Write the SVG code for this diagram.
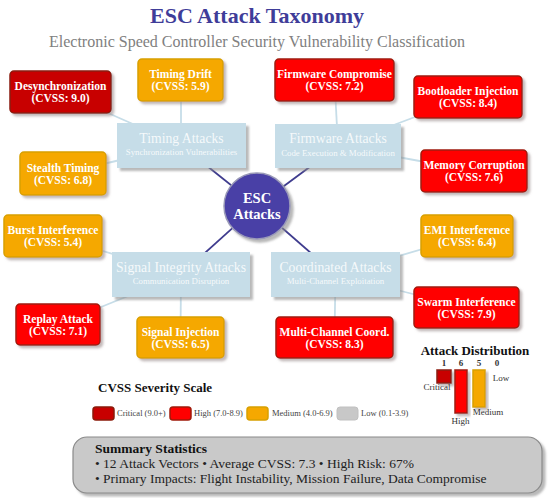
<svg xmlns="http://www.w3.org/2000/svg" width="550" height="498" viewBox="0 0 550 498">
<defs>
<filter id="sh" x="-20%" y="-20%" width="150%" height="160%"><feDropShadow dx="2.5" dy="2.5" stdDeviation="1" flood-color="#9a8a8a" flood-opacity="0.6"/></filter>
<filter id="shc" x="-20%" y="-20%" width="150%" height="160%"><feDropShadow dx="3" dy="3" stdDeviation="0.8" flood-color="#8a8a8a" flood-opacity="0.6"/></filter>
<style>
text{font-family:"Liberation Serif","Times New Roman",serif}
.leaf rect{stroke-width:1.5;filter:url(#sh)}
.crit{fill:#c80000;stroke:#8b1a0a}
.high{fill:#ff0000;stroke:#a01a0a}
.med{fill:#f5a800;stroke:#d8a000}
.low{fill:#c8c8c8;stroke:#c0c0c0}
.lt{fill:#ffffff;font-size:11.5px;font-weight:bold;text-anchor:middle}
.cat rect{fill:#c6dde8;filter:url(#shc)}
.ct{fill:#ffffff;fill-opacity:0.85;font-size:13.7px;text-anchor:middle}
.cs{fill:#ffffff;fill-opacity:0.85;font-size:8.8px;text-anchor:middle}
.hub{stroke:#3f3c8e;stroke-width:1.8}
.br{stroke:#c6dde8;stroke-width:1.8}
.lg{fill:#444;font-size:8.5px}
.dl{fill:#333;font-size:9px;text-anchor:middle}
.sm{fill:#222;font-size:13.5px}
</style>
</defs>
<rect width="550" height="498" fill="#ffffff"/>
<g id="title">
<text x="257" y="23" font-size="22" font-weight="bold" fill="#3f3d99" text-anchor="middle">ESC Attack Taxonomy</text>
<text x="257" y="47" font-size="16" fill="#808080" text-anchor="middle">Electronic Speed Controller Security Vulnerability Classification</text>
</g>
<g id="connectors">
<line class="hub" x1="257" y1="206" x2="181.5" y2="145.5"/>
<line class="hub" x1="257" y1="206" x2="338" y2="146"/>
<line class="hub" x1="257" y1="206" x2="181" y2="274.5"/>
<line class="hub" x1="257" y1="206" x2="335.5" y2="274.5"/>
<line class="br" x1="181.5" y1="145.5" x2="60.5" y2="92"/>
<line class="br" x1="181" y1="145.5" x2="181" y2="80"/>
<line class="br" x1="181.5" y1="145.5" x2="63" y2="173.5"/>
<line class="br" x1="338" y1="146" x2="334.5" y2="80"/>
<line class="br" x1="338" y1="146" x2="468" y2="97"/>
<line class="br" x1="338" y1="146" x2="474" y2="171"/>
<line class="br" x1="181" y1="274.5" x2="53" y2="236"/>
<line class="br" x1="181" y1="274.5" x2="58" y2="324.5"/>
<line class="br" x1="181" y1="274.5" x2="180.5" y2="337.5"/>
<line class="br" x1="335.5" y1="274.5" x2="467" y2="236"/>
<line class="br" x1="335.5" y1="274.5" x2="466.5" y2="307.5"/>
<line class="br" x1="335.5" y1="274.5" x2="334.5" y2="337.5"/>
</g>
<g id="cat-timing" class="cat"><rect x="117" y="123" width="129" height="45"/><text class="ct" x="181.5" y="142.5">Timing Attacks</text><text class="cs" x="181.5" y="155">Synchronization Vulnerabilities</text></g>
<g id="cat-firmware" class="cat"><rect x="275" y="124" width="126" height="44"/><text class="ct" x="338" y="143">Firmware Attacks</text><text class="cs" x="338" y="155.5">Code Execution &amp; Modification</text></g>
<g id="cat-signal" class="cat"><rect x="112" y="252" width="138" height="45"/><text class="ct" x="181" y="271.5">Signal Integrity Attacks</text><text class="cs" x="181" y="284">Communication Disruption</text></g>
<g id="cat-coord" class="cat"><rect x="271" y="252" width="129" height="45"/><text class="ct" x="335.5" y="271.5">Coordinated Attacks</text><text class="cs" x="335.5" y="284">Multi-Channel Exploitation</text></g>
<g id="hub">
<circle cx="257" cy="206" r="33" fill="#4a3fa6" stroke="#9a9ab8" stroke-width="1.5" filter="url(#shc)"/>
<text x="257" y="203" font-size="14.5" font-weight="bold" fill="#ffffff" text-anchor="middle">ESC</text>
<text x="257" y="219" font-size="14.5" font-weight="bold" fill="#ffffff" text-anchor="middle">Attacks</text>
</g>
<g id="desync" class="leaf"><rect class="crit" x="10" y="71" width="101" height="42" rx="4"/><text class="lt" x="60.5" y="90">Desynchronization</text><text class="lt" x="60.5" y="102">(CVSS: 9.0)</text></g>
<g id="timing-drift" class="leaf"><rect class="med" x="138" y="59" width="85" height="42" rx="4"/><text class="lt" x="180.5" y="78">Timing Drift</text><text class="lt" x="180.5" y="90">(CVSS: 5.9)</text></g>
<g id="stealth-timing" class="leaf"><rect class="med" x="20" y="152" width="86" height="43" rx="4"/><text class="lt" x="63" y="171.5">Stealth Timing</text><text class="lt" x="63" y="183.5">(CVSS: 6.8)</text></g>
<g id="firmware-compromise" class="leaf"><rect class="high" x="275" y="59" width="119" height="42" rx="4"/><text class="lt" x="334.5" y="78">Firmware Compromise</text><text class="lt" x="334.5" y="90">(CVSS: 7.2)</text></g>
<g id="bootloader" class="leaf"><rect class="high" x="414" y="76" width="108" height="42" rx="4"/><text class="lt" x="468" y="95">Bootloader Injection</text><text class="lt" x="468" y="107">(CVSS: 8.4)</text></g>
<g id="memory" class="leaf"><rect class="high" x="421" y="150" width="106" height="42" rx="4"/><text class="lt" x="474" y="169">Memory Corruption</text><text class="lt" x="474" y="181">(CVSS: 7.6)</text></g>
<g id="burst" class="leaf"><rect class="med" x="4" y="215" width="98" height="42" rx="4"/><text class="lt" x="53" y="234">Burst Interference</text><text class="lt" x="53" y="246">(CVSS: 5.4)</text></g>
<g id="replay" class="leaf"><rect class="high" x="16" y="304" width="84" height="41" rx="4"/><text class="lt" x="58" y="322.5">Replay Attack</text><text class="lt" x="58" y="334.5">(CVSS: 7.1)</text></g>
<g id="signal-injection" class="leaf"><rect class="med" x="137" y="317" width="87" height="41" rx="4"/><text class="lt" x="180.5" y="335.5">Signal Injection</text><text class="lt" x="180.5" y="347.5">(CVSS: 6.5)</text></g>
<g id="emi" class="leaf"><rect class="med" x="421" y="215" width="92" height="42" rx="4"/><text class="lt" x="467" y="234">EMI Interference</text><text class="lt" x="467" y="246">(CVSS: 6.4)</text></g>
<g id="swarm" class="leaf"><rect class="high" x="414" y="287" width="105" height="41" rx="4"/><text class="lt" x="466.5" y="305.5">Swarm Interference</text><text class="lt" x="466.5" y="317.5">(CVSS: 7.9)</text></g>
<g id="multi-channel" class="leaf"><rect class="high" x="276" y="317" width="117" height="41" rx="4"/><text class="lt" x="334.5" y="335.5">Multi-Channel Coord.</text><text class="lt" x="334.5" y="347.5">(CVSS: 8.3)</text></g>
<g id="distribution">
<text x="475" y="355" font-size="13" font-weight="bold" fill="#111" text-anchor="middle">Attack Distribution</text>
<text class="dl" x="444" y="366" font-weight="bold">1</text>
<text class="dl" x="461" y="366" font-weight="bold">6</text>
<text class="dl" x="479" y="366" font-weight="bold">5</text>
<text class="dl" x="497" y="366" font-weight="bold">0</text>
<g class="leaf">
<rect class="crit" x="437" y="370" width="14" height="13"/>
<rect class="high" x="455" y="370" width="12" height="43"/>
<rect class="med" x="473" y="370" width="12" height="37"/>
</g>
<text class="dl" x="437" y="390">Critical</text>
<text class="dl" x="460.5" y="424">High</text>
<text class="dl" x="488" y="415">Medium</text>
<text class="dl" x="501" y="381">Low</text>
</g>
<g id="legend">
<text x="98" y="392" font-size="13" font-weight="bold" fill="#111">CVSS Severity Scale</text>
<rect class="crit" x="93" y="407" width="21" height="13" rx="3" stroke-width="1.5"/>
<text class="lg" x="117" y="416">Critical (9.0+)</text>
<rect class="high" x="170" y="407" width="21" height="13" rx="3" stroke-width="1.5"/>
<text class="lg" x="194" y="416">High (7.0-8.9)</text>
<rect class="med" x="247" y="407" width="21" height="13" rx="3" stroke-width="1.5"/>
<text class="lg" x="272" y="416">Medium (4.0-6.9)</text>
<rect class="low" x="337" y="407" width="21" height="13" rx="3" stroke-width="1"/>
<text class="lg" x="361" y="416">Low (0.1-3.9)</text>
</g>
<g id="summary">
<rect x="73" y="437" width="469" height="56" rx="14" fill="#c9c9c9" stroke="#8a8a8a" stroke-width="1.2" filter="url(#shc)"/>
<text x="95" y="453" font-size="13.5" font-weight="bold" fill="#111">Summary Statistics</text>
<text class="sm" x="95" y="468">• 12 Attack Vectors • Average CVSS: 7.3 • High Risk:  67%</text>
<text class="sm" x="95" y="483">• Primary Impacts:  Flight Instability, Mission Failure, Data Compromise</text>
</g>
</svg>
